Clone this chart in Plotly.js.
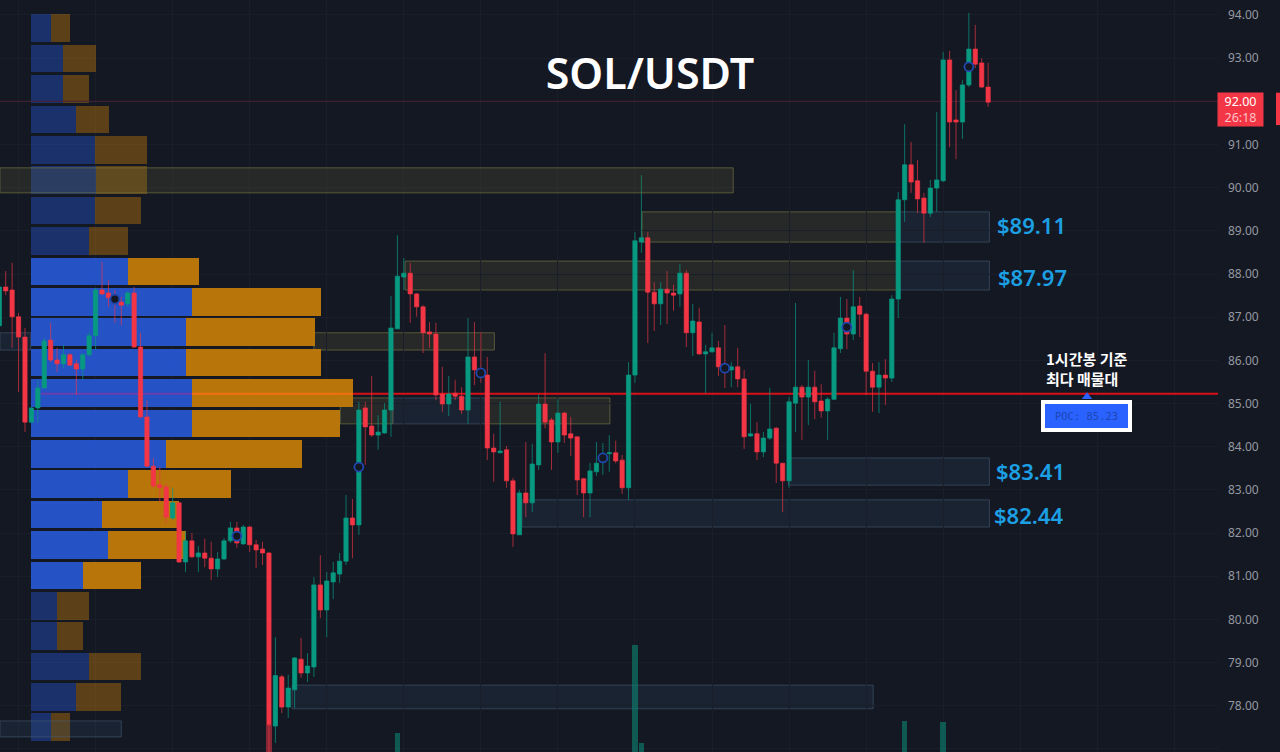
<!DOCTYPE html>
<html>
<head>
<meta charset="utf-8">
<script src="https://cdn.plot.ly/plotly-3.0.1.min.js"></script>
<style>
body{margin:0;background:#141823;overflow:hidden;}
</style>
</head>
<body>
<div id="chart"></div>
<script>
// candles, first bar sits at index -1
const opens = [86.80,87.70,87.63,87.01,86.54,84.57,84.90,85.36,86.47,86.01,85.92,86.13,85.92,85.80,86.13,86.57,87.63,87.56,87.49,87.35,87.31,87.56,86.31,84.69,83.55,83.12,83.07,82.35,82.70,81.33,81.82,81.45,81.54,81.42,81.17,81.40,81.82,82.12,81.75,82.14,81.73,81.63,81.54,
77.53,78.67,77.97,78.37,79.08,78.76,78.90,80.80,80.22,80.87,81.05,81.35,82.35,82.19,84.90,84.48,84.27,84.32,84.85,86.73,87.93,88.02,87.54,87.24,86.66,86.61,85.22,84.99,85.24,85.17,84.85,86.08,85.78,85.66,83.97,83.86,83.93,83.21,81.96,82.93,82.70,
83.58,84.99,84.62,84.11,84.78,84.30,84.23,83.26,82.93,83.42,83.72,83.84,83.86,83.69,83.05,85.66,88.74,88.84,87.58,87.31,87.65,87.56,87.54,88.02,86.64,86.89,86.15,86.20,86.29,85.85,85.78,85.85,85.57,84.25,84.30,83.88,84.20,84.43,83.62,83.21,85.01,85.38,85.15,85.38,85.06,84.83,85.10,86.27,86.98,86.61,87.26,87.07,85.75,85.38,85.66,85.59,87.42,89.72,90.53,90.16,89.76,89.41,89.99,90.16,92.96,91.57,91.52,92.38,93.21,92.89,92.33];
const highs = [87.72,88.07,88.26,87.10,86.75,84.92,85.55,86.52,86.87,86.29,86.36,86.17,86.01,86.17,86.66,87.68,88.28,87.86,87.63,87.47,87.61,87.70,86.64,85.08,83.74,83.53,83.16,83.05,82.72,82.03,82.00,81.70,81.87,81.80,81.56,81.89,82.26,82.26,82.19,82.17,81.84,81.80,81.56,
79.59,78.72,78.72,79.13,79.57,79.22,80.98,81.49,81.10,81.33,81.54,82.88,82.79,85.04,85.04,85.64,84.73,85.01,87.49,88.90,88.37,88.26,87.56,87.28,86.89,86.87,85.85,85.64,85.55,85.38,86.98,86.89,86.66,86.08,84.30,85.04,84.02,83.28,83.00,84.11,84.07,
85.22,86.17,84.67,85.10,84.81,84.69,84.23,83.28,83.62,84.11,84.09,84.27,84.14,83.81,85.96,88.97,90.29,88.97,87.81,87.81,88.07,87.75,88.23,88.09,87.31,87.22,86.36,86.64,86.45,86.82,85.96,86.29,85.78,84.99,84.57,84.34,85.36,84.46,83.62,85.15,87.33,85.43,86.01,85.76,85.45,85.15,86.64,87.47,87.42,88.09,87.47,87.10,85.94,85.96,86.03,87.51,89.90,91.47,91.06,90.64,89.88,90.18,91.75,93.14,93.17,92.26,92.49,94.05,93.77,93.00,92.89];
const lows = [86.78,87.51,86.29,85.27,84.34,84.55,84.55,85.36,85.96,85.73,85.82,85.87,85.20,85.55,86.08,86.24,87.51,87.24,86.87,86.82,87.24,86.29,84.67,83.53,83.05,82.72,82.23,82.30,81.31,81.10,81.42,81.10,81.21,80.91,80.98,81.38,81.77,81.66,81.73,81.56,81.19,81.26,76.90,
77.14,77.83,77.72,77.95,78.65,78.55,78.67,80.03,79.59,80.47,80.85,81.26,81.42,81.96,83.58,84.23,83.93,84.30,84.23,86.73,87.63,86.87,87.01,86.17,86.29,85.08,84.81,84.71,85.08,84.76,84.53,85.43,85.48,83.69,83.19,83.86,83.05,81.68,81.96,82.37,82.49,
83.46,84.43,83.46,83.86,84.09,83.79,82.88,82.37,82.37,83.32,83.35,83.42,83.62,82.91,82.77,85.48,88.49,86.40,86.68,86.82,86.84,87.15,87.24,86.31,86.10,86.13,85.24,86.17,85.64,85.36,85.38,85.38,83.95,84.23,83.69,83.76,84.16,83.16,82.49,83.05,84.34,84.16,84.50,84.64,84.67,84.16,85.08,86.17,86.26,86.47,86.54,85.20,84.81,84.78,84.97,85.50,86.98,89.21,89.88,89.41,88.72,89.32,89.44,90.13,90.94,90.66,91.13,92.33,92.77,92.31,91.87];
const closes = [87.70,87.61,87.01,86.54,84.57,84.90,85.36,86.45,86.01,85.92,86.13,85.89,85.80,86.13,86.57,87.63,87.54,87.45,87.35,87.28,87.56,86.31,84.69,83.55,83.09,83.05,82.37,82.70,81.33,81.82,81.45,81.54,81.42,81.17,81.40,81.82,82.12,81.77,82.14,81.73,81.61,81.54,77.56,
78.70,77.97,78.41,79.11,78.76,78.92,80.80,80.22,80.89,81.08,81.35,82.35,82.19,84.85,84.46,84.27,84.34,84.85,86.75,87.95,88.02,87.54,87.24,86.64,86.61,85.20,84.99,85.22,85.17,84.85,86.08,85.78,85.66,83.97,83.88,83.90,83.21,81.98,82.93,82.70,83.60,
84.99,84.57,84.11,84.78,84.27,84.20,83.23,82.93,83.44,83.62,83.78,83.86,83.67,83.05,85.66,88.77,88.84,87.58,87.31,87.65,87.56,87.51,88.02,86.64,86.91,86.15,86.20,86.29,85.85,85.78,85.85,85.57,84.23,84.30,83.88,84.20,84.41,83.62,83.21,85.04,85.38,85.15,85.38,85.04,84.83,85.10,86.29,86.98,86.61,87.24,87.07,85.75,85.38,85.66,85.59,87.42,89.72,90.53,90.13,89.74,89.41,89.99,90.18,92.96,91.52,91.52,92.38,93.21,92.86,92.33,91.98];

// highest-volume-bar rings
const ringBars = [17,36,55,74,93,112,131,150];
const ringPrices = [87.42,81.93,83.53,85.71,83.74,85.82,86.77,92.80];

// tall volume columns that reach into the view
const volBars = [41,61,98,99,140,146];
const volValues = [36,25,142,12,41,40];
const volColors = ['#f23645','#089981','#089981','#089981','#089981','#089981'];

// volume profile rows, top to bottom
const rowPrices = [93.69,92.99,92.28,91.58,90.87,90.17,89.47,88.76,88.06,87.35,86.65,85.95,85.24,84.54,83.83,83.13,82.43,81.72,81.02,80.31,79.61,78.91,78.20,77.50];
const buyVolume = [20,32,32,45,64,65,64,58,97,161,155,155,161,161,135,97,71,77,52,26,26,58,45,20];
const sellVolume = [19,33,26,33,52,51,46,39,71,129,129,135,161,148,136,103,77,78,58,32,26,52,45,19];
const valueAreaFirst = 8, valueAreaLast = 18;

// price zones: [first bar, last bar, top, bottom]
const oliveZones = [[99.1,139,89.44,88.74],[62.2,139,88.30,87.63],[48,76.1,86.64,86.24],[52.1,60.3,85.13,84.53],[74.7,94.1,85.13,84.53]];
const blueZones = [[139,153.2,89.44,88.74],[139,153.2,88.30,87.63],[-0.9,3.9,86.64,86.24],[60.3,74.7,85.13,84.53],[121.9,153.2,83.74,83.11],[80.4,153.2,82.77,82.14],[44.6,135.1,78.48,77.93]];
const overProfileZones = [[-0.9,113.3,90.46,89.88,'olive'],[-0.9,18,77.65,77.28,'blue']];

const levelLabels = ['$89.11','$87.97','$83.41','$82.44'];
const levelPrices = [89.13,87.92,83.43,82.41];
const levelLeft = [964,965,963,961];

const priceTicks = [94,93,91,90,89,88,87,86,85,84,83,82,81,80,79,78,77];
const pocPrice = 85.23;
const lastPrice = 92.00;

const BG = '#141823', GRID = '#1a1e29', UP = '#089981', DOWN = '#f23645';
const PLOT_W = 1218;

const barIndex = opens.map((_, i) => i - 1);
const rowOpacity = rowPrices.map((_, i) => (i >= valueAreaFirst && i <= valueAreaLast) ? 0.95 : 0.42);

const traces = [
    {
        type: 'bar', orientation: 'h', y: rowPrices, x: buyVolume,
        marker: {color: '#2655cf', opacity: rowOpacity}, hoverinfo: 'skip'
    },
    {
        type: 'bar', orientation: 'h', y: rowPrices, x: sellVolume,
        marker: {color: '#c07a0a', opacity: rowOpacity}, hoverinfo: 'skip'
    },
    {
        type: 'scatter', mode: 'lines', x: [-31, 1187], y: [lastPrice, lastPrice],
        line: {color: '#4a2233', width: 1}, hoverinfo: 'skip'
    },
    {
        type: 'scatter', mode: 'lines', x: [10, 161], y: [pocPrice, pocPrice],
        line: {color: '#6a3fb0', width: 2}, hoverinfo: 'skip'
    },
    {
        type: 'scatter', mode: 'lines', x: [161, 322], y: [pocPrice, pocPrice],
        line: {color: '#f07010', width: 2}, hoverinfo: 'skip'
    },
    {
        type: 'scatter', mode: 'lines', x: [322, 1187], y: [pocPrice, pocPrice],
        line: {color: '#d81018', width: 2}, hoverinfo: 'skip'
    },
    {
        type: 'bar', x: volBars, y: volValues, xaxis: 'x2', yaxis: 'y2', width: 0.85,
        marker: {color: volColors, opacity: 0.5}, hoverinfo: 'skip'
    },
    {
        type: 'candlestick', x: barIndex, open: opens, high: highs, low: lows, close: closes,
        xaxis: 'x2', yaxis: 'y', whiskerwidth: 0,
        increasing: {fillcolor: UP, line: {color: 'rgba(8,153,129,0.7)', width: 1}},
        decreasing: {fillcolor: DOWN, line: {color: 'rgba(242,54,69,0.65)', width: 1}},
        hoverinfo: 'skip'
    },
    {
        type: 'scatter', mode: 'markers', x: ringBars, y: ringPrices, xaxis: 'x2', yaxis: 'y',
        marker: {symbol: 'circle', size: 9, color: BG, line: {color: '#2047ad', width: 1.8}},
        hoverinfo: 'skip'
    },
    {
        type: 'scatter', mode: 'markers', x: [168.4], y: [pocPrice - 0.07], xaxis: 'x2', yaxis: 'y',
        marker: {symbol: 'triangle-up', size: 9, color: '#2962ff'}, hoverinfo: 'skip'
    }
];

function zoneShape(z, kind, layer){
    const olive = kind === 'olive';
    return {
        type: 'rect', xref: 'x2', yref: 'y', layer: layer,
        x0: z[0], x1: z[1], y0: z[3], y1: z[2],
        fillcolor: olive ? 'rgba(112,112,56,0.2)' : 'rgba(50,78,110,0.2)',
        line: {color: olive ? 'rgba(128,128,72,0.6)' : 'rgba(72,96,120,0.55)', width: 1}
    };
}

const shapes = [
    ...oliveZones.map(z => zoneShape(z, 'olive', 'below')),
    ...blueZones.map(z => zoneShape(z, 'blue', 'below')),
    ...overProfileZones.map(z => zoneShape(z, z[4], 'above')),
    {
        type: 'rect', xref: 'paper', yref: 'y', x0: 1276 / PLOT_W, x1: 1280 / PLOT_W,
        y0: 91.45, y1: 92.2, fillcolor: DOWN, line: {width: 0}
    }
];

const annotations = [
    ...levelLabels.map((t, i) => ({
        text: t, xref: 'x', yref: 'y', x: levelLeft[i], y: levelPrices[i],
        xanchor: 'left', yanchor: 'middle', showarrow: false,
        font: {family: 'Noto Sans', size: 22, color: '#1c9fe3', weight: 600}
    })),
    {
        text: '1시간봉 기준<br>최다 매물대', xref: 'x', yref: 'y', x: 1013, y: 85.82,
        xanchor: 'left', yanchor: 'middle', align: 'left', showarrow: false,
        font: {family: 'Noto Sans CJK KR', size: 15, color: '#ffffff', weight: 700}
    },
    {
        text: 'POC: ' + pocPrice.toFixed(2), xref: 'x', yref: 'y', x: 1055.5, y: 84.71,
        xanchor: 'center', yanchor: 'middle', showarrow: false,
        width: 81, height: 22, bgcolor: '#2962ff', bordercolor: '#ffffff', borderwidth: 4,
        font: {family: 'DejaVu Sans Mono', size: 10.5, color: '#1e46b4'}
    },
    {
        text: lastPrice.toFixed(2) + '<br><span style="color:#ffc2c8">26:18</span>',
        xref: 'paper', yref: 'y', x: 1240.5 / PLOT_W, y: 91.82,
        xanchor: 'center', yanchor: 'middle', showarrow: false,
        width: 45, height: 33, bgcolor: DOWN, borderpad: 0,
        font: {family: 'Noto Sans', size: 12.5, color: '#ffffff'}
    }
];

const layout = {
    width: 1280,
    height: 752,
    margin: {l: 0, r: 62, t: 0, b: 0},
    paper_bgcolor: BG,
    plot_bgcolor: BG,
    showlegend: false,
    barmode: 'stack',
    bargap: 0.08,
    boxgap: 0.05,
    dragmode: false,
    title: {
        text: 'SOL/USDT', x: 650 / 1280, xanchor: 'center', y: 1 - 74 / 752, yanchor: 'middle',
        font: {family: 'Noto Sans', size: 43, color: '#ffffff', weight: 600}
    },
    xaxis: {range: [-31, 1187], showgrid: false, showticklabels: false, zeroline: false, ticks: ''},
    xaxis2: {
        overlaying: 'x', side: 'top', range: [-0.888, 188.8], showticklabels: false, zeroline: false,
        ticks: '', showgrid: true, gridcolor: GRID, tickmode: 'linear', tick0: 2, dtick: 12,
        rangeslider: {visible: false}
    },
    yaxis: {
        side: 'right', range: [76.93, 94.347], tickmode: 'array', tickvals: priceTicks, tickformat: '.2f',
        showgrid: true, gridcolor: GRID, zeroline: false, ticks: '', ticklabelstandoff: 9,
        tickfont: {family: 'Noto Sans', size: 12, color: '#9598a1'}
    },
    yaxis2: {overlaying: 'y', range: [0, 1000], visible: false},
    shapes: shapes,
    annotations: annotations
};

Plotly.newPlot('chart', traces, layout, {displayModeBar: false, staticPlot: true});
</script>
</body>
</html>
